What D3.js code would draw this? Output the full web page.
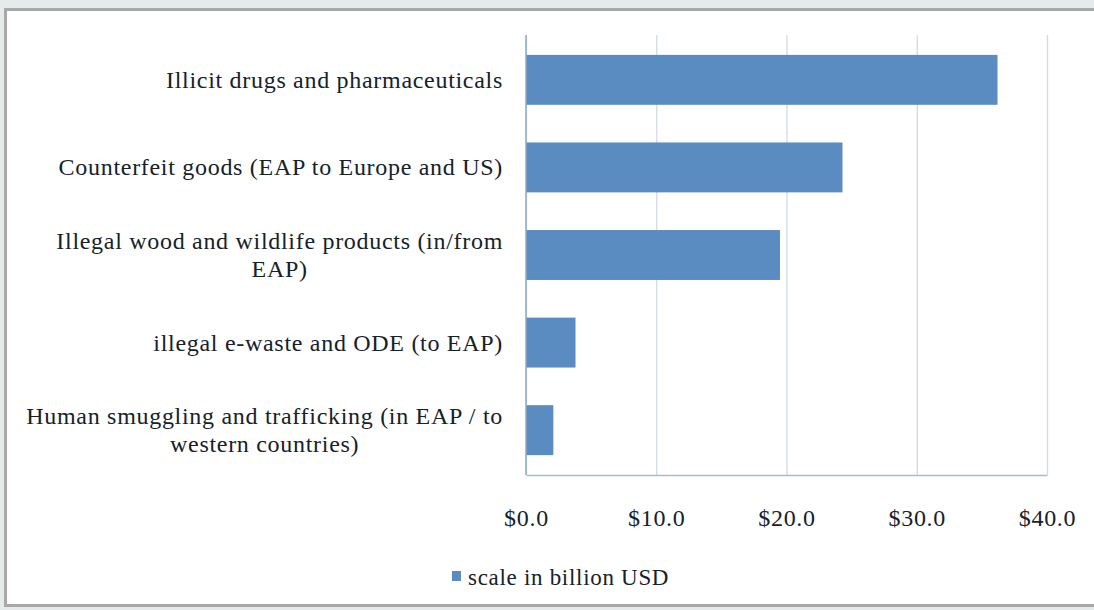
<!DOCTYPE html>
<html>
<head>
<meta charset="utf-8">
<script src="https://cdn.jsdelivr.net/npm/d3@7"></script>
<style>
   body { margin: 0; background: #e5eaea; }
   svg { display: block; }
   .cat-label, .tick text, .legend text { font-family: "Liberation Serif", serif; fill: #15222a; letter-spacing: 0.7px; }
</style>
</head>
<body>
<div id="chart"></div>
<script>
   var categories = [
      "Illicit drugs and pharmaceuticals",
      "Counterfeit goods (EAP to Europe and US)",
      "Illegal wood and wildlife products (in/from EAP)",
      "illegal e-waste and ODE (to EAP)",
      "Human smuggling and trafficking (in EAP / to western countries)"
   ];
   var values = [36.2, 24.3, 19.5, 3.8, 2.1];
   var xTicks = [0, 10, 20, 30, 40];
   var seriesName = "scale in billion USD";

   var width = 1094, height = 610;
   var margin = { top: 35, right: 47, bottom: 135, left: 526 };
   var barColor = "#5b8cc1";

   var svg = d3.select("#chart")
      .append("svg")
      .attr("width", width)
      .attr("height", height);

   // white panel with grey frame
   svg.append("rect")
      .attr("x", 5.5)
      .attr("y", 9.5)
      .attr("width", width + 20)
      .attr("height", 596)
      .attr("fill", "#fff")
      .attr("stroke", "#a8a8a8")
      .attr("stroke-width", 3);

   var xScale = d3.scaleLinear()
      .domain([0, 40])
      .range([margin.left, width - margin.right]);

   var yScale = d3.scaleBand()
      .domain(categories)
      .range([margin.top, height - margin.bottom])
      .paddingInner(0.43)
      .paddingOuter(0.227);

   var plotBottom = height - margin.bottom;

   // vertical gridlines
   var grid = svg.append("g")
      .attr("transform", "translate(0," + plotBottom + ")")
      .call(d3.axisBottom(xScale)
         .tickValues(xTicks)
         .tickSize(-(plotBottom - margin.top))
         .tickFormat(""));
   grid.select(".domain").remove();
   grid.selectAll("line").attr("stroke", "#cfdbe3").attr("stroke-width", 1.3);

   // bars
   svg.append("g")
      .selectAll("rect")
      .data(values)
      .enter()
      .append("rect")
      .attr("x", xScale(0))
      .attr("y", function (d, i) { return yScale(categories[i]); })
      .attr("width", function (d) { return xScale(d) - xScale(0); })
      .attr("height", yScale.bandwidth())
      .attr("fill", barColor);

   // x axis
   var gX = svg.append("g")
      .attr("transform", "translate(0," + plotBottom + ")")
      .call(d3.axisBottom(xScale)
         .tickValues(xTicks)
         .tickSize(0)
         .tickPadding(34)
         .tickFormat(function (d) { return "$" + d.toFixed(1); }));
   gX.select(".domain").attr("stroke", "#a9bccb").attr("stroke-width", 1.5);
   gX.selectAll("text").attr("font-size", 24).attr("font-family", "Liberation Serif, serif");

   // y axis line
   svg.append("line")
      .attr("x1", xScale(0))
      .attr("x2", xScale(0))
      .attr("y1", margin.top)
      .attr("y2", plotBottom)
      .attr("stroke", "#8eaac4")
      .attr("stroke-width", 1.5);

   // category labels, wrapped and centred like the original
   var labelRight = 503, maxWidth = 485, lineHeight = 28;
   var labels = svg.append("g");
   categories.forEach(function (c) {
      var t = labels.append("text")
         .attr("class", "cat-label")
         .attr("font-size", 24)
         .attr("text-anchor", "middle");
      var words = c.split(" ");
      var lines = [];
      var line = [];
      var probe = labels.append("text").attr("class", "cat-label").attr("font-size", 24);
      words.forEach(function (w) {
         probe.text(line.concat([w]).join(" "));
         if (probe.node().getComputedTextLength() > maxWidth && line.length) {
            lines.push(line.join(" "));
            line = [w];
         } else {
            line.push(w);
         }
      });
      lines.push(line.join(" "));
      probe.text(lines[0]);
      var w0 = probe.node().getComputedTextLength();
      probe.remove();
      var cx = labelRight - w0 / 2;
      var cy = yScale(c) + yScale.bandwidth() / 2;
      var y0 = cy - (lines.length - 1) * lineHeight / 2 + 8;
      lines.forEach(function (l, i) {
         t.append("tspan")
            .attr("x", cx)
            .attr("y", y0 + i * lineHeight)
            .text(l);
      });
   });

   // legend
   var legend = svg.append("g").attr("class", "legend");
   legend.append("rect")
      .attr("x", 452)
      .attr("y", 571)
      .attr("width", 9)
      .attr("height", 10)
      .attr("fill", barColor);
   legend.append("text")
      .attr("x", 468)
      .attr("y", 585)
      .attr("font-size", 23)
      .text(seriesName);
</script>
</body>
</html>
